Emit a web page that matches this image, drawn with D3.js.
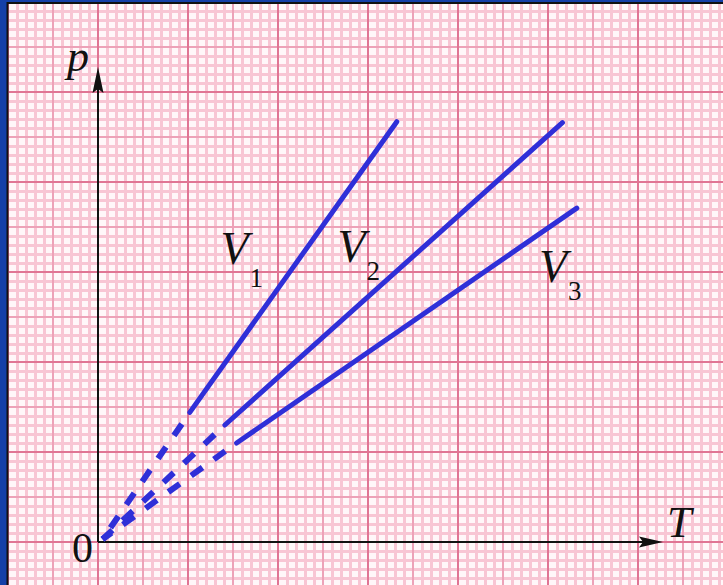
<!DOCTYPE html>
<html>
<head>
<meta charset="utf-8">
<script src="https://cdn.jsdelivr.net/npm/d3@7"></script>
<style>
  html, body { margin: 0; padding: 0; background: #1540a8; }
  svg { display: block; }
</style>
</head>
<body>
<div id="chart"></div>
<script>
// isochores p-T : trois volumes V1 < V2 < V3 (unités = petits carreaux)
const lineNames = ["1", "2", "3"];
const solidStartT = [10.2, 14.1, 15.4];
const solidStartP = [14.4, 13.0, 11.0];
const endT = [33.2, 51.6, 53.2];
const endP = [46.7, 46.6, 37.1];
// position des étiquettes V_i (en unités du graphique)
const labelT = [13.6, 26.6, 49.0];
const labelP = [30.9, 31.1, 28.9];

const width = 723;
const height = 585;

const svg = d3.select("#chart")
    .append("svg")
    .attr("width", width)
    .attr("height", height);

// 10 unités = un grand carreau (90 px)
const xScale = d3.scaleLinear().domain([0, 10]).range([98, 188]);
const yScale = d3.scaleLinear().domain([0, 10]).range([542, 452]);

const tMin = Math.floor(xScale.invert(0)), tMax = Math.ceil(xScale.invert(width));
const pMin = Math.floor(yScale.invert(height)), pMax = Math.ceil(yScale.invert(0));

// fond papier millimétré
svg.append("rect")
    .attr("x", 0).attr("y", 0)
    .attr("width", width).attr("height", height)
    .attr("fill", "#fff7f9");

function drawGrid(step, color, w, skip) {
    const g = svg.append("g").attr("shape-rendering", "crispEdges");
    const ts = d3.range(tMin, tMax + 1).filter(d => d % step === 0 && !(skip && d % skip === 0));
    const ps = d3.range(pMin, pMax + 1).filter(d => d % step === 0 && !(skip && d % skip === 0));
    g.selectAll(".v").data(ts).enter().append("line")
        .attr("x1", d => xScale(d)).attr("x2", d => xScale(d))
        .attr("y1", 0).attr("y2", height)
        .attr("stroke", color).attr("stroke-width", w);
    g.selectAll(".h").data(ps).enter().append("line")
        .attr("y1", d => yScale(d)).attr("y2", d => yScale(d))
        .attr("x1", 0).attr("x2", width)
        .attr("stroke", color).attr("stroke-width", w);
}
drawGrid(1, "#f8c6d4", 3, 5);
drawGrid(5, "#eda2b8", 2, 10);
drawGrid(10, "#e07594", 2, 0);

// bordure bleue (gauche et haut)
svg.append("rect").attr("x", 0).attr("y", 0).attr("width", 7).attr("height", height).attr("fill", "#1540a8");
svg.append("rect").attr("x", 0).attr("y", 0).attr("width", width).attr("height", 2).attr("fill", "#1540a8");
svg.append("line").attr("x1", 7.5).attr("x2", 7.5).attr("y1", 2).attr("y2", height)
    .attr("stroke", "#111").attr("stroke-width", 2);
svg.append("line").attr("x1", 7).attr("x2", width).attr("y1", 3).attr("y2", 3)
    .attr("stroke", "#111").attr("stroke-width", 2);

// axes
const x0 = xScale(0), y0 = yScale(0);
svg.append("line").attr("x1", x0).attr("y1", y0).attr("x2", x0).attr("y2", 80)
    .attr("stroke", "#111").attr("stroke-width", 2);
svg.append("path").attr("d", `M${x0},67 L${x0 + 5.5},93 L${x0},89 L${x0 - 5.5},93 Z`).attr("fill", "#111");
svg.append("line").attr("x1", x0).attr("y1", y0).attr("x2", 650).attr("y2", y0)
    .attr("stroke", "#111").attr("stroke-width", 2);
svg.append("path").attr("d", `M663,${y0} L639,${y0 - 5.5} L643,${y0} L639,${y0 + 5.5} Z`).attr("fill", "#111");

// droites
const lineColor = "#2f2fd8";
const lines = svg.append("g");
lines.selectAll(".solid")
    .data(lineNames)
    .enter()
    .append("line")
    .attr("x1", (d, i) => xScale(solidStartT[i]))
    .attr("y1", (d, i) => yScale(solidStartP[i]))
    .attr("x2", (d, i) => xScale(endT[i]))
    .attr("y2", (d, i) => yScale(endP[i]))
    .attr("stroke", lineColor)
    .attr("stroke-width", 5)
    .attr("stroke-linecap", "round");

// prolongement en pointillés jusqu'à l'origine
lines.selectAll(".dash")
    .data(lineNames)
    .enter()
    .append("line")
    .attr("x1", (d, i) => xScale(solidStartT[i]))
    .attr("y1", (d, i) => yScale(solidStartP[i]))
    .attr("x2", xScale(0.5))
    .attr("y2", yScale(0.3))
    .attr("stroke", lineColor)
    .attr("stroke-width", 6)
    .attr("stroke-dasharray", "14,14")
    .attr("stroke-dashoffset", 14);

// étiquettes
const serif = "'Liberation Serif', 'DejaVu Serif', serif";
const labels = svg.append("g").attr("font-family", serif).attr("fill", "#111");
labels.selectAll(".lab")
    .data(lineNames)
    .enter()
    .append("text")
    .attr("x", (d, i) => xScale(labelT[i]))
    .attr("y", (d, i) => yScale(labelP[i]))
    .attr("font-size", 46)
    .attr("font-style", "italic")
    .text("V");
labels.selectAll(".sub")
    .data(lineNames)
    .enter()
    .append("text")
    .attr("x", (d, i) => xScale(labelT[i]) + 29)
    .attr("y", (d, i) => yScale(labelP[i]) + [23, 18, 18][i])
    .attr("font-size", 27)
    .text(d => d);

labels.append("text").attr("x", 67).attr("y", 71).attr("font-size", 44)
    .attr("font-style", "italic").text("p");
labels.append("text").attr("x", 667).attr("y", 537).attr("font-size", 44)
    .attr("font-style", "italic").text("T");
labels.append("text").attr("x", 72).attr("y", 562).attr("font-size", 42).text("0");
</script>
</body>
</html>
